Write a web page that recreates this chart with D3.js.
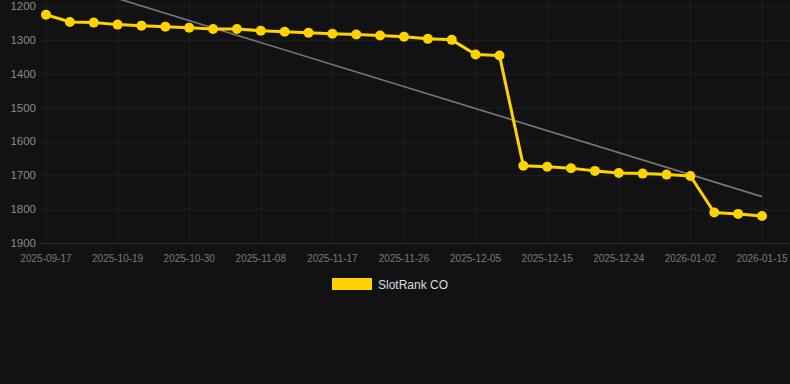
<!DOCTYPE html>
<html><head><meta charset="utf-8">
<script src="https://cdn.jsdelivr.net/npm/d3@7"></script>
<style>html,body{margin:0;padding:0;background:#121212;}svg{display:block;}</style>
</head><body>
<svg id="c" width="790" height="384"></svg>
<script>
const dates = ["2025-09-17","2025-09-28","2025-10-08","2025-10-19","2025-10-21","2025-10-25","2025-10-30","2025-11-01","2025-11-04","2025-11-08","2025-11-11","2025-11-14","2025-11-17","2025-11-20","2025-11-23","2025-11-26","2025-11-29","2025-12-02","2025-12-05","2025-12-08","2025-12-11","2025-12-15","2025-12-18","2025-12-21","2025-12-24","2025-12-27","2025-12-30","2026-01-02","2026-01-06","2026-01-10","2026-01-15"];
const rankValues = [1226,1247,1249,1255,1258,1261,1264,1268,1268,1273,1276,1279,1282,1284,1287,1291,1297,1300,1343,1346,1672,1675,1679,1687,1693,1695,1698,1702,1810,1814,1820];
const tickLabels = ["2025-09-17","2025-10-19","2025-10-30","2025-11-08","2025-11-17","2025-11-26","2025-12-05","2025-12-15","2025-12-24","2026-01-02","2026-01-15"];
const yTicks = [1200,1300,1400,1500,1600,1700,1800,1900];
const trendValues = [1113,1763];
const seriesName = "SlotRank CO";

const svg = d3.select("#c");
const x = d3.scalePoint().domain(d3.range(dates.length)).range([46,762]);
const y = d3.scaleLinear().domain([1200,1900]).range([6,243]);
const tickIdx = tickLabels.map(t => dates.indexOf(t));

// grid
svg.append("g").selectAll("line").data(yTicks).join("line")
  .attr("x1",40).attr("x2",790).attr("y1",d=>y(d)+0.5).attr("y2",d=>y(d)+0.5)
  .attr("stroke",d=>d===1900?"#2a2a2a":"#202020").attr("stroke-width",1);
svg.append("g").selectAll("line").data(tickIdx).join("line")
  .attr("x1",d=>Math.round(x(d))+0.5).attr("x2",d=>Math.round(x(d))+0.5).attr("y1",0).attr("y2",243)
  .attr("stroke","#1e1e1e").attr("stroke-width",1);

// y labels
svg.append("g").selectAll("text").data(yTicks).join("text")
  .attr("x",36).attr("y",d=>y(d)+4).attr("text-anchor","end")
  .attr("font-family","Liberation Sans, Arial, sans-serif").attr("font-size",11.5)
  .attr("fill","#8a8a8a").text(d=>d);

// x labels
svg.append("g").selectAll("text").data(tickIdx).join("text")
  .attr("x",d=>x(d)).attr("y",262).attr("text-anchor","middle")
  .attr("font-family","Liberation Sans, Arial, sans-serif").attr("font-size",10)
  .attr("fill","#7a7a7a").text((d,i)=>tickLabels[i]);

// trend line
svg.append("line")
  .attr("x1",x(0)).attr("y1",y(trendValues[0]))
  .attr("x2",x(dates.length-1)).attr("y2",y(trendValues[1]))
  .attr("stroke","#777").attr("stroke-width",1.6);

// series
const line = d3.line().x((d,i)=>x(i)).y(d=>y(d));
svg.append("path").datum(rankValues).attr("d",line)
  .attr("fill","none").attr("stroke","#FFD200").attr("stroke-width",3).attr("stroke-linejoin","round");
svg.append("g").selectAll("circle").data(rankValues).join("circle")
  .attr("cx",(d,i)=>x(i)).attr("cy",d=>y(d)).attr("r",5).attr("fill","#FFD200");

// legend
const lg = svg.append("g");
lg.append("rect").attr("x",332).attr("y",278).attr("width",40).attr("height",12).attr("fill","#FFD200");
lg.append("text").attr("x",378).attr("y",289).attr("font-family","Liberation Sans, Arial, sans-serif")
  .attr("font-size",12).attr("fill","#dddddd").text(seriesName);
</script>
</body></html>
